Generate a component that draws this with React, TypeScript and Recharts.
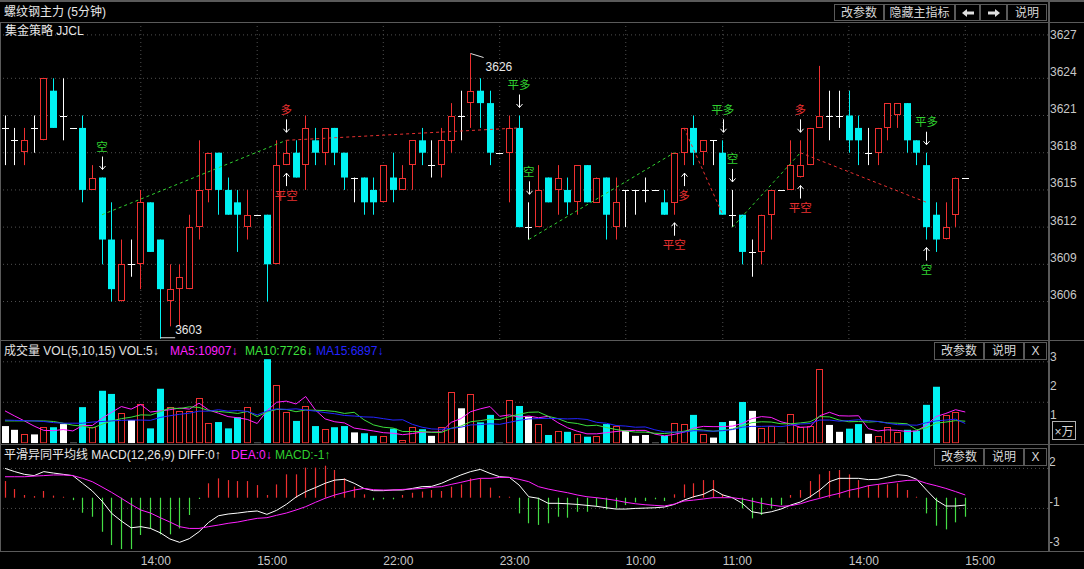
import React from "react";
import { ComposedChart, Bar, Line, XAxis, YAxis, ReferenceLine, Scatter } from "recharts";

// ---------- data ----------
const openP = [3620,3619,3618,3620,3619,3623,3621,3620,3620,3615,3616,3611,3606,3609,3609,3614,3611,3606,3607,3607,3612,3615,3618,3615,3614,3612,3613,3613,3609,3617,3618,3617,3619,3618,3620,3618,3616,3616,3615,3614,3616,3615,3617,3619,3617,3617,3619,3621,3622,3623,3622,3618,3618,3620,3612,3612,3616,3615,3615,3614,3617,3614,3616,3612,3615,3615,3615,3615,3614,3614,3618,3620,3618,3619,3618,3613,3613,3610,3610,3613,3615,3615,3616,3617,3620,3621,3621,3621,3620,3618,3618,3620,3621,3622,3619,3617,3613,3611,3613,3616];
const highP = [3621,3620,3620,3621,3624,3624,3624,3620,3621,3617,3616,3614,3611,3611,3615,3614,3611,3609,3609,3613,3619,3618,3618,3616,3615,3615,3613,3613,3619,3619,3619,3621,3620,3620,3620,3618,3616,3616,3616,3617,3618,3617,3619,3620,3619,3620,3622,3623,3626,3624,3623,3618,3621,3621,3614,3617,3616,3617,3616,3617,3617,3616,3616,3616,3615,3615,3616,3615,3615,3618,3620,3621,3619,3619,3619,3615,3613,3611,3613,3615,3615,3619,3619,3620,3625,3623,3623,3623,3621,3620,3620,3622,3622,3622,3619,3618,3614,3614,3616,3616];
const lowP = [3617,3617,3617,3618,3619,3620,3619,3620,3614,3615,3609,3606,3606,3608,3607,3610,3603,3604,3604,3607,3611,3614,3613,3613,3610,3611,3613,3606,3609,3617,3616,3615,3617,3617,3617,3615,3614,3613,3613,3614,3614,3615,3615,3617,3616,3616,3618,3619,3620,3620,3617,3618,3614,3612,3611,3612,3614,3613,3613,3613,3614,3614,3611,3611,3612,3613,3614,3615,3613,3613,3617,3617,3617,3617,3613,3612,3609,3608,3609,3611,3615,3615,3616,3617,3620,3619,3620,3618,3617,3617,3617,3619,3620,3618,3617,3611,3610,3611,3612,3616];
const closeP = [3620,3619,3619,3620,3624,3620,3621,3620,3615,3616,3611,3607,3609,3609,3614,3610,3607,3607,3608,3612,3615,3618,3615,3613,3613,3613,3613,3609,3617,3618,3616,3620,3618,3620,3618,3616,3616,3614,3614,3617,3615,3616,3619,3618,3617,3619,3621,3621,3623,3622,3618,3618,3620,3612,3612,3615,3614,3616,3614,3617,3614,3616,3613,3614,3615,3615,3615,3615,3613,3618,3620,3618,3619,3619,3613,3613,3610,3610,3613,3615,3615,3617,3617,3620,3621,3621,3621,3619,3619,3618,3620,3622,3622,3619,3618,3612,3611,3612,3616,3616];

// volume in 万 (10k lots)
const volume = [0.60,0.47,0.31,0.31,0.56,0.56,0.67,0.02,1.26,0.56,1.83,1.72,1.05,0.81,1.36,0.52,1.90,1.26,1.13,1.13,1.57,0.70,0.74,0.52,0.91,1.26,0.02,2.93,2.03,1.10,0.78,1.30,0.60,0.49,0.56,0.60,0.38,0.35,0.26,0.27,0.51,0.12,0.56,0.49,0.26,0.56,1.77,1.22,1.71,0.73,0.99,0.02,1.51,1.30,0.93,0.67,0.29,0.43,0.40,0.31,0.23,0.26,0.67,0.60,0.44,0.26,0.29,0.02,0.26,0.72,0.66,0.99,0.31,0.20,0.74,0.78,1.44,1.13,0.55,0.60,0.02,1.02,0.58,0.60,2.58,0.64,0.40,0.51,0.67,0.33,0.26,0.56,0.41,0.47,0.44,1.34,1.97,0.99,1.10,0.001];
const volMA5 = [1.13,0.95,0.78,0.60,0.45,0.44,0.48,0.43,0.62,0.62,0.87,1.08,1.28,1.19,1.35,1.09,1.13,1.17,1.23,1.19,1.40,1.16,1.05,0.93,0.89,0.83,0.69,1.13,1.43,1.47,1.37,1.63,1.16,0.85,0.75,0.71,0.53,0.48,0.43,0.37,0.35,0.30,0.34,0.39,0.39,0.40,0.73,0.86,1.10,1.20,1.28,0.94,0.99,0.91,0.95,0.89,0.94,0.72,0.54,0.42,0.33,0.33,0.37,0.41,0.44,0.45,0.45,0.32,0.26,0.31,0.39,0.53,0.59,0.58,0.58,0.60,0.69,0.86,0.93,0.90,0.75,0.67,0.56,0.57,0.96,1.08,0.96,0.95,0.96,0.51,0.43,0.47,0.45,0.41,0.43,0.64,0.93,1.04,1.17,1.09];
const volMA10 = [0.78,0.78,0.78,0.78,0.78,0.76,0.70,0.63,0.60,0.53,0.66,0.78,0.86,0.91,0.99,0.98,1.10,1.23,1.21,1.27,1.25,1.14,1.11,1.08,1.04,1.11,0.93,1.09,1.18,1.18,1.10,1.16,1.15,1.14,1.11,1.04,1.08,0.82,0.64,0.56,0.53,0.41,0.41,0.41,0.38,0.38,0.52,0.60,0.75,0.79,0.84,0.83,0.93,1.01,1.08,1.09,0.94,0.86,0.73,0.69,0.61,0.63,0.55,0.48,0.43,0.39,0.39,0.35,0.34,0.38,0.42,0.49,0.46,0.42,0.45,0.50,0.61,0.72,0.75,0.74,0.68,0.68,0.71,0.75,0.93,0.92,0.81,0.75,0.76,0.74,0.76,0.71,0.70,0.68,0.47,0.54,0.70,0.74,0.79,0.77];
const volMA15 = [0.81,0.80,0.79,0.78,0.76,0.72,0.70,0.70,0.70,0.74,0.76,0.78,0.80,0.81,0.81,0.80,0.90,0.96,1.01,1.05,1.12,1.12,1.17,1.12,1.14,1.11,0.99,1.12,1.20,1.18,1.20,1.16,1.12,1.07,1.03,0.97,0.95,0.92,0.91,0.86,0.81,0.82,0.66,0.56,0.50,0.49,0.52,0.56,0.64,0.65,0.68,0.66,0.73,0.80,0.85,0.86,0.87,0.86,0.85,0.86,0.83,0.73,0.70,0.62,0.60,0.56,0.57,0.47,0.40,0.39,0.39,0.44,0.43,0.42,0.44,0.48,0.56,0.59,0.59,0.60,0.58,0.63,0.67,0.69,0.81,0.81,0.77,0.79,0.82,0.79,0.76,0.70,0.65,0.64,0.63,0.72,0.78,0.81,0.84,0.69];

const diffV = [1.83,1.63,1.46,1.38,1.63,1.54,1.46,1.38,0.90,0.42,-0.21,-0.98,-1.46,-1.88,-1.81,-1.92,-2.19,-2.58,-2.79,-2.56,-2.13,-1.54,-1.13,-1.02,-0.96,-0.88,-0.83,-1.04,-0.79,-0.42,0.04,0.38,0.63,0.90,1.10,1.15,0.90,0.58,0.44,0.44,0.48,0.48,0.58,0.69,0.71,0.90,1.17,1.42,1.63,1.77,1.52,1.31,1.27,0.79,0.06,-0.04,-0.35,-0.35,-0.38,-0.42,-0.48,-0.54,-0.63,-0.71,-0.71,-0.67,-0.65,-0.63,-0.58,-0.42,-0.15,0.06,0.21,0.52,0.17,0.00,-0.35,-0.88,-0.98,-0.88,-0.71,-0.46,-0.27,0.06,0.48,1.00,1.21,1.21,1.21,1.13,1.15,1.29,1.44,1.38,1.15,0.48,-0.15,-0.52,-0.52,-0.46];
const deaV = [1.31,1.31,1.31,1.35,1.38,1.42,1.42,1.38,1.21,1.00,0.67,0.33,-0.04,-0.42,-0.77,-0.96,-1.25,-1.52,-1.81,-1.92,-1.92,-1.81,-1.71,-1.60,-1.52,-1.40,-1.29,-1.25,-1.10,-0.96,-0.77,-0.56,-0.29,-0.04,0.17,0.33,0.48,0.58,0.50,0.48,0.48,0.52,0.54,0.58,0.65,0.69,0.83,0.96,1.10,1.21,1.21,1.27,1.27,1.15,1.00,0.69,0.54,0.42,0.31,0.17,0.06,0.00,-0.08,-0.17,-0.29,-0.38,-0.44,-0.48,-0.52,-0.40,-0.21,-0.15,-0.08,0.00,0.00,0.00,-0.08,-0.21,-0.35,-0.46,-0.54,-0.50,-0.38,-0.19,-0.04,0.13,0.27,0.46,0.58,0.75,0.83,0.92,1.00,1.08,1.10,0.90,0.75,0.58,0.38,0.17];
const macdV = [1.04,0.54,0.17,0.10,0.42,0.13,0.06,-0.15,-0.94,-1.19,-2.13,-2.96,-3.21,-3.21,-2.33,-1.92,-2.29,-2.29,-1.92,-1.08,-0.08,0.90,1.21,1.10,1.04,1.04,0.79,0.17,0.83,1.46,1.46,1.88,1.88,2.00,1.73,1.21,0.69,0.21,-0.15,-0.10,-0.10,0.17,0.31,0.38,0.48,0.42,0.69,0.83,1.21,1.21,0.63,0.10,0.06,-0.98,-1.60,-1.70,-1.60,-1.19,-1.25,-0.88,-0.88,-0.56,-0.73,-0.67,-0.46,-0.29,-0.21,-0.10,-0.21,0.21,0.83,0.90,1.10,1.10,0.21,-0.04,-0.67,-1.29,-1.08,-0.67,-0.46,0.17,0.48,1.04,1.46,1.67,1.73,1.46,1.10,0.79,0.79,0.83,0.90,0.48,0.06,-0.98,-1.75,-1.98,-1.54,-1.19];

const timeTickIdx = [14, 26, 39, 51, 64, 74, 87, 99];
const timeTickLabels = ["14:00", "15:00", "22:00", "23:00", "10:00", "11:00", "14:00", "15:00"];

const priceTicks = [3606, 3609, 3612, 3615, 3618, 3621, 3624, 3627];
const priceGrid = [3606, 3609, 3612, 3615, 3618, 3621, 3624, 3627.5];
const volTicks = [1, 2, 3];
const volGrid = [1.43, 2.84];
const macdTicks = [1.83, -0.67, -3.17];
const macdGrid = [1.83, -0.67];

const sigIdx = [10, 29, 29, 53, 54, 69, 70, 74, 75, 82, 82, 95, 95];
const sigText = ["空", "多", "平空", "平多", "空", "平空", "多", "平多", "空", "平空", "多", "平多", "空"];
const sigSide = ["above", "above", "below", "above", "above", "below", "below", "above", "above", "below", "above", "above", "below"];

const tradeFrom = [10, 29, 54, 70, 75, 82];
const tradeFromPrice = [3613, 3619, 3611, 3620, 3612, 3618];
const tradeTo = [29, 53, 69, 74, 82, 95];
const tradeToPrice = [3619, 3620, 3618, 3613, 3618, 3614];
const tradeIsLong = [false, true, false, true, false, true];

const extremeIdx = [48, 16];
const extremeKind = ["high", "low"];

// ---------- style ----------
const FONT = "'Liberation Sans','Noto Sans CJK SC',sans-serif";
const RED = "#ee3030";
const CYAN = "#00f2f2";
const WHITE = "#ffffff";
const SIG_GREEN = "#30d030";
const SIG_RED = "#e83030";
const GRID = "#505050";
const BORDER = "#5a5a5a";
const AXIS_TEXT = "#c8c8c8";
const MAG = "#ff20ff";
const MA10C = "#3ce03c";
const MA15C = "#2424ff";
const MACD_GREEN = "#44dd44";

const X_DOMAIN: [number, number] = [-0.31, 107.53];
const PRICE_DOMAIN: [number, number] = [3602.98, 3628.54];
const VOL_DOMAIN: [number, number] = [0, 3.564];
const MACD_DOMAIN: [number, number] = [-3.331, 3.231];

const rows = openP.map((o, i) => ({
  i,
  o,
  h: highP[i],
  l: lowP[i],
  c: closeP[i],
  range: [lowP[i], highP[i]],
  vol: volume[i],
  ma5: volMA5[i],
  ma10: volMA10[i],
  ma15: volMA15[i],
  diff: diffV[i],
  dea: deaV[i],
  macd: macdV[i],
}));

const signalData = sigIdx.map((i, k) => ({
  i,
  y: sigSide[k] === "above" ? highP[i] : lowP[i],
  text: sigText[k],
  side: sigSide[k],
  color: sigText[k] === "空" || sigText[k] === "平多" ? SIG_GREEN : SIG_RED,
}));

const extremeData = extremeIdx.map((i, k) => ({
  i,
  y: extremeKind[k] === "high" ? highP[i] : lowP[i],
  kind: extremeKind[k],
  text: String(extremeKind[k] === "high" ? highP[i] : lowP[i]),
}));

function candleColor(o: number, c: number) {
  return c > o ? RED : c < o ? CYAN : WHITE;
}

function CandleShape(props: any) {
  const { x, y, width, height, payload } = props;
  if (x == null || y == null || !payload) return null;
  const { o, h, l, c } = payload;
  const top = Math.min(y, y + (height || 0));
  const bot = Math.max(y, y + (height || 0));
  const span = h - l;
  const toY = (v: number) => (span === 0 ? top : top + ((h - v) / span) * (bot - top));
  const cx = Math.round(x + width / 2) + 0.5;
  const color = candleColor(o, c);
  const yT = toY(Math.max(o, c));
  const yB = toY(Math.min(o, c));
  return (
    <g>
      <line x1={cx} x2={cx} y1={top} y2={bot} stroke={color} strokeWidth={1} />
      {c === o ? (
        <line x1={cx - 3.5} x2={cx + 3.5} y1={Math.round(yT) + 0.5} y2={Math.round(yT) + 0.5} stroke={color} strokeWidth={1} />
      ) : c > o ? (
        <rect x={cx - 3} y={Math.round(yT) + 0.5} width={6} height={Math.max(1, Math.round(yB - yT) - 1)} fill="#000" stroke={color} strokeWidth={1} />
      ) : (
        <rect x={cx - 3.5} y={yT} width={7} height={Math.max(1, yB - yT)} fill={color} />
      )}
    </g>
  );
}

function VolShape(props: any) {
  const { x, y, width, height, payload } = props;
  if (x == null || y == null || !payload) return null;
  const top = Math.min(y, y + (height || 0));
  const bot = Math.max(y, y + (height || 0));
  const cx = Math.round(x + width / 2) + 0.5;
  const color = candleColor(payload.o, payload.c);
  if (color === RED) {
    return <rect x={cx - 3} y={Math.round(top) + 0.5} width={6} height={Math.max(0.5, bot - Math.round(top) - 1)} fill="#000" stroke={RED} strokeWidth={1} />;
  }
  return <rect x={cx - 3.5} y={top} width={7} height={bot - top} fill={color} />;
}

function MacdShape(props: any) {
  const { x, y, width, height, payload } = props;
  if (x == null || y == null || !payload) return null;
  const cx = Math.round(x + width / 2) + 0.5;
  const color = payload.macd >= 0 ? RED : MACD_GREEN;
  return <line x1={cx} x2={cx} y1={y} y2={y + (height || 0)} stroke={color} strokeWidth={1.2} />;
}

function SignalMark(p: any) {
  const { cx, cy, payload } = p;
  if (cx == null || cy == null || !payload) return null;
  const s = payload.side === "below" ? 1 : -1;
  const x = Math.round(cx) + 0.5;
  const tip = cy + s * 8;
  const tail = cy + s * 21;
  const ty = cy + s * 30.5;
  return (
    <g>
      <line x1={x} y1={tip} x2={x} y2={tail} stroke="#fff" strokeWidth={1} />
      <polyline points={`${x - 3},${tip + s * 3.5} ${x},${tip} ${x + 3},${tip + s * 3.5}`} fill="none" stroke="#fff" strokeWidth={1} />
      <text x={cx} y={ty} fill={payload.color} fontSize={11.5} textAnchor="middle" dominantBaseline="central" fontFamily={FONT}>
        {payload.text}
      </text>
    </g>
  );
}

function ExtremeMark(p: any) {
  const { cx, cy, payload } = p;
  if (cx == null || cy == null || !payload) return null;
  if (payload.kind === "high") {
    return (
      <g>
        <line x1={cx} y1={cy} x2={cx + 13} y2={cy + 4} stroke="#e0e0e0" strokeWidth={1} />
        <text x={cx + 15} y={cy + 13.5} fill="#e8e8e8" fontSize={12} dominantBaseline="central" fontFamily={FONT}>
          {payload.text}
        </text>
      </g>
    );
  }
  return (
    <g>
      <line x1={cx} y1={cy - 1} x2={cx + 15} y2={cy - 1} stroke="#e0e0e0" strokeWidth={1} />
      <text x={cx + 15} y={cy - 9} fill="#e8e8e8" fontSize={12} dominantBaseline="central" fontFamily={FONT}>
        {payload.text}
      </text>
    </g>
  );
}

const PriceTick = (p: any) => (
  <text x={p.x} y={p.y - 6.5} fill={AXIS_TEXT} fontSize={12} fontFamily={FONT} dominantBaseline="central">
    {p.payload.value}
  </text>
);
const VolTick = (p: any) => (
  <text x={p.x} y={p.y} fill={AXIS_TEXT} fontSize={12} fontFamily={FONT} dominantBaseline="central">
    {p.payload.value}
  </text>
);
const MacdTick = (p: any) => (
  <text x={p.x - 1} y={p.y - 6.5} fill={AXIS_TEXT} fontSize={12} fontFamily={FONT} dominantBaseline="central">
    {Math.round(p.payload.value)}
  </text>
);
const TimeTick = (p: any) => {
  const k = timeTickIdx.indexOf(p.payload.value);
  return (
    <text x={p.x} y={p.y + 10} fill={AXIS_TEXT} fontSize={12} fontFamily={FONT} dominantBaseline="central">
      {k >= 0 ? timeTickLabels[k] : ""}
    </text>
  );
};

function Txt({ left, cy, color, children, size = 12 }: any) {
  return (
    <div style={{ position: "absolute", left, top: cy - 8, height: 16, lineHeight: "16px", color, fontSize: size, fontFamily: FONT, whiteSpace: "nowrap" }}>
      {children}
    </div>
  );
}

function Btn({ left, top, width, height, children }: any) {
  return (
    <div
      style={{
        position: "absolute", left, top, width, height, boxSizing: "border-box", border: `1px solid ${BORDER}`,
        background: "#000", color: "#d8d8d8", fontSize: 12, fontFamily: FONT, display: "flex",
        alignItems: "center", justifyContent: "center", lineHeight: 1,
      }}
    >
      {children}
    </div>
  );
}

function HLine({ top, left = 0, width = 1084, h = 1 }: any) {
  return <div style={{ position: "absolute", top, left, width, height: h, background: BORDER }} />;
}
function VLine({ left, top, height, w = 1 }: any) {
  return <div style={{ position: "absolute", top, left, width: w, height, background: BORDER }} />;
}

const gridLineProps = { stroke: GRID, strokeDasharray: "1 3", strokeWidth: 1 };
const layer: React.CSSProperties = { position: "absolute", left: 0, top: 0 };

// A chart layer that only holds the dotted grid, drawn beneath the series layer
function GridLayer({ height, margin, yDomain, hValues, vValues, xAxisHeight }: any) {
  return (
    <div style={layer}>
      <ComposedChart width={1084} height={height} data={rows} margin={margin}>
        <XAxis dataKey="i" type="number" domain={X_DOMAIN} allowDataOverflow hide={!xAxisHeight} height={xAxisHeight || 0} tick={false} axisLine={false} tickLine={false} />
        <YAxis orientation="right" width={36} domain={yDomain} allowDataOverflow tick={false} axisLine={false} tickLine={false} />
        {hValues.map((v: number) => (
          <ReferenceLine key={"h" + v} y={v} {...gridLineProps} />
        ))}
        {(vValues || []).map((v: number) => (
          <ReferenceLine key={"v" + v} x={v} {...gridLineProps} />
        ))}
      </ComposedChart>
    </div>
  );
}

export default function App() {
  const priceMargin = { top: 22, right: 0, bottom: 2, left: 2 };
  const volMargin = { top: 1, right: 0, bottom: 0.7, left: 2 };
  const macdMargin = { top: 2, right: 0, bottom: 0, left: 2 };
  return (
    <div style={{ position: "absolute", left: 0, top: 0, width: 1084, height: 569, background: "#000", overflow: "hidden" }}>
      {/* price panel */}
      <div style={{ position: "absolute", left: 0, top: 0, width: 1084, height: 341 }}>
        <GridLayer height={341} margin={priceMargin} yDomain={PRICE_DOMAIN} hValues={priceGrid} vValues={timeTickIdx} />
        <div style={layer}>
          <ComposedChart width={1084} height={341} data={rows} margin={priceMargin}>
            <XAxis dataKey="i" type="number" domain={X_DOMAIN} allowDataOverflow hide />
            <YAxis
              orientation="right"
              width={36}
              domain={PRICE_DOMAIN}
              allowDataOverflow
              ticks={priceTicks}
              interval={0}
              axisLine={false}
              tickLine={false}
              tickSize={0}
              tickMargin={2}
              tick={PriceTick}
            />
            <Bar dataKey="range" barSize={7} shape={CandleShape} isAnimationActive={false} />
            {tradeFrom.map((f, k) => (
              <ReferenceLine
                key={"t" + k}
                segment={[
                  { x: f, y: tradeFromPrice[k] },
                  { x: tradeTo[k], y: tradeToPrice[k] },
                ]}
                stroke={tradeIsLong[k] ? SIG_RED : SIG_GREEN}
                strokeDasharray="3 3"
                strokeWidth={1}
              />
            ))}
            <Scatter data={signalData} dataKey="y" shape={SignalMark} isAnimationActive={false} />
            <Scatter data={extremeData} dataKey="y" shape={ExtremeMark} isAnimationActive={false} />
          </ComposedChart>
        </div>
      </div>

      {/* volume panel */}
      <div style={{ position: "absolute", left: 0, top: 340, width: 1084, height: 104 }}>
        <GridLayer height={104} margin={volMargin} yDomain={VOL_DOMAIN} hValues={volGrid} />
        <div style={layer}>
          <ComposedChart width={1084} height={104} data={rows} margin={volMargin}>
            <XAxis dataKey="i" type="number" domain={X_DOMAIN} allowDataOverflow hide />
            <YAxis
              orientation="right"
              width={36}
              domain={VOL_DOMAIN}
              allowDataOverflow
              ticks={volTicks}
              interval={0}
              axisLine={false}
              tickLine={false}
              tickSize={0}
              tickMargin={2}
              tick={VolTick}
            />
            <Bar dataKey="vol" barSize={7} shape={VolShape} isAnimationActive={false} />
            <Line dataKey="ma5" type="linear" stroke={MAG} strokeWidth={1} dot={false} isAnimationActive={false} />
            <Line dataKey="ma10" type="linear" stroke={MA10C} strokeWidth={1} dot={false} isAnimationActive={false} />
            <Line dataKey="ma15" type="linear" stroke={MA15C} strokeWidth={1} dot={false} isAnimationActive={false} />
          </ComposedChart>
        </div>
      </div>

      {/* MACD panel */}
      <div style={{ position: "absolute", left: 0, top: 444, width: 1084, height: 125 }}>
        <GridLayer height={125} margin={macdMargin} yDomain={MACD_DOMAIN} hValues={macdGrid} xAxisHeight={18} />
        <div style={layer}>
          <ComposedChart width={1084} height={125} data={rows} margin={macdMargin}>
            <XAxis
              dataKey="i"
              type="number"
              domain={X_DOMAIN}
              allowDataOverflow
              height={18}
              ticks={timeTickIdx}
              interval={0}
              axisLine={false}
              tickLine={false}
              tickSize={0}
              tickMargin={0}
              tick={TimeTick}
            />
            <YAxis
              orientation="right"
              width={36}
              domain={MACD_DOMAIN}
              allowDataOverflow
              ticks={macdTicks}
              interval={0}
              axisLine={false}
              tickLine={false}
              tickSize={0}
              tickMargin={2}
              tick={MacdTick}
            />
            <Bar dataKey="macd" barSize={3} shape={MacdShape} isAnimationActive={false} />
            <Line dataKey="diff" type="linear" stroke="#ffffff" strokeWidth={1} dot={false} isAnimationActive={false} />
            <Line dataKey="dea" type="linear" stroke={MAG} strokeWidth={1} dot={false} isAnimationActive={false} />
          </ComposedChart>
        </div>
      </div>

      {/* frame lines */}
      <HLine top={0} h={2} />
      <HLine top={22} />
      <HLine top={340} />
      <HLine top={444} />
      <HLine top={551} />
      <VLine left={1048} top={0} height={552} w={2} />
      <VLine left={0} top={22} height={530} />

      {/* title row */}
      <Txt left={4} cy={12} color="#e8e8e8">螺纹钢主力 (5分钟)</Txt>
      <Btn left={834} top={4} width={50} height={17}>改参数</Btn>
      <Btn left={884} top={4} width={71} height={17}>隐藏主指标</Btn>
      <Btn left={955} top={4} width={25} height={17}>
        <svg width="12" height="8" viewBox="0 0 12 8"><polygon points="0,4 5,0 5,2.5 12,2.5 12,5.5 5,5.5 5,8" fill="#e0e0e0" /></svg>
      </Btn>
      <Btn left={980} top={4} width={27} height={17}>
        <svg width="12" height="8" viewBox="0 0 12 8"><polygon points="12,4 7,0 7,2.5 0,2.5 0,5.5 7,5.5 7,8" fill="#e0e0e0" /></svg>
      </Btn>
      <Btn left={1007} top={4} width={40} height={17}>说明</Btn>
      <Txt left={5} cy={31} color="#e8e8e8">集金策略 JJCL</Txt>

      {/* volume header */}
      <Txt left={4} cy={351} color="#e0e0e0">成交量 VOL(5,10,15) VOL:5↓</Txt>
      <Txt left={170} cy={351} color={MAG}>MA5:10907↓</Txt>
      <Txt left={245} cy={351} color={MA10C}>MA10:7726↓</Txt>
      <Txt left={316} cy={351} color={MA15C}>MA15:6897↓</Txt>
      <Btn left={934} top={342} width={50} height={18}>改参数</Btn>
      <Btn left={984} top={342} width={40} height={18}>说明</Btn>
      <Btn left={1024} top={342} width={23} height={18}>X</Btn>
      <div
        style={{
          position: "absolute", left: 1052, top: 421, width: 24, height: 19, boxSizing: "border-box",
          border: "1px solid #b0b0b0", color: "#d8d8d8", fontSize: 12, fontFamily: FONT,
          display: "flex", alignItems: "center", justifyContent: "center", background: "#000",
        }}
      >
        ×万
      </div>

      {/* MACD header */}
      <Txt left={4} cy={455} color="#e8e8e8">平滑异同平均线 MACD(12,26,9) DIFF:0↑</Txt>
      <Txt left={231} cy={455} color={MAG}>DEA:0↓</Txt>
      <Txt left={275} cy={455} color={SIG_GREEN}>MACD:-1↑</Txt>
      <Btn left={934} top={448} width={50} height={18}>改参数</Btn>
      <Btn left={984} top={448} width={40} height={18}>说明</Btn>
      <Btn left={1024} top={448} width={23} height={18}>X</Btn>
    </div>
  );
}
